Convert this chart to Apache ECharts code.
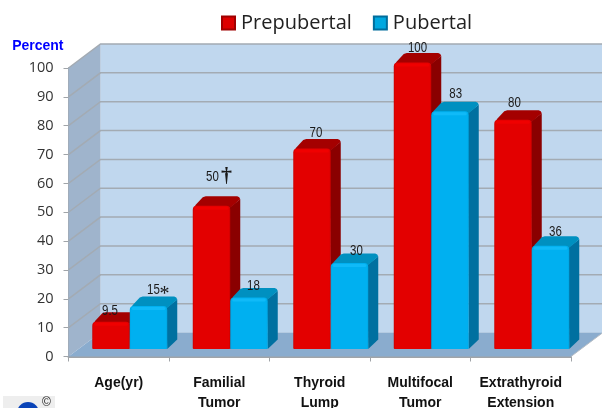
<!DOCTYPE html>
<html>
<head>
<meta charset="utf-8">
<style>html,body{margin:0;padding:0;background:#fff}#c{width:602px;height:408px}</style>
<script src="https://cdn.jsdelivr.net/npm/echarts@6/dist/echarts.min.js"></script>
</head>
<body>
<div id="c"></div>
<script>
const categories = ['Age(yr)', 'Familial\nTumor', 'Thyroid\nLump', 'Multifocal\nTumor', 'Extrathyroid\nExtension'];
const prepubertal = [9.5, 50, 70, 100, 80];
const pubertal = [15, 18, 30, 83, 36];
const prepubertalMarks = ['', '†', '', '', ''];
const pubertalMarks = ['*', '', '', '', ''];
const yTicks = [0, 10, 20, 30, 40, 50, 60, 70, 80, 90, 100];

const WALL_DX = 32, WALL_DY = 24;    // depth of the room
const FLOOR_DX = 11, FLOOR_DY = 7.5; // where bars stand on the floor
const BAR_DX = 10, BAR_DY = 9.5;     // depth of a bar
const BAR_SCALE = 0.993;             // bars stand further back than the axis plane
const SANS = '"Liberation Sans",Arial,sans-serif';
// hand placement of the value labels, in pixels relative to the bar's top
const labelPlacement = {
  Prepubertal: {lift: [11, 29, 15.5, 14.5, 17], shift: [-1, 1, 4, 5, 1.5]},
  Pubertal: {lift: [15.5, 11.5, 12, 17.5, 13.5], shift: [5, 4.5, 7, 5.7, 5]}
};

function backdrop(params, api) {
  const w = api.size([1, 0])[0];
  const x0 = api.coord([0, 0])[0] - w / 2;
  const x1 = x0 + w * categories.length;
  const y0 = api.coord([0, 0])[1];
  const y1 = api.coord([0, 100])[1];
  const line = '#a3abb3';
  const poly = (points, fill) => ({type: 'polygon', shape: {points}, style: {fill}, silent: true});
  const children = [
    poly([[x0 + WALL_DX, y1 - WALL_DY], [x1 + WALL_DX, y1 - WALL_DY], [x1 + WALL_DX, y0 - WALL_DY], [x0 + WALL_DX, y0 - WALL_DY]], '#c0d7ee'),
    poly([[x0, y1], [x0 + WALL_DX, y1 - WALL_DY], [x0 + WALL_DX, y0 - WALL_DY], [x0, y0]], '#9fb4cc'),
    poly([[x0, y0], [x1, y0], [x1 + WALL_DX, y0 - WALL_DY], [x0 + WALL_DX, y0 - WALL_DY]], '#8aacce')
  ];
  yTicks.forEach(t => {
    const y = api.coord([0, t])[1];
    if (t > 0) {
      children.push({type: 'polyline', shape: {points: [[x0, y], [x0 + WALL_DX, y - WALL_DY], [x1 + WALL_DX, y - WALL_DY]]},
        style: {fill: null, stroke: line, lineWidth: 1.5}, silent: true});
    }
  });
  children.push({type: 'line', shape: {x1: x1, y1: y0, x2: x1 + WALL_DX, y2: y0 - WALL_DY}, style: {stroke: '#b5bcc4', lineWidth: 1}, silent: true});
  return {type: 'group', children};
}

function barRenderer(side, colors, marks, placement) {
  return function (params, api) {
    const i = api.value(0), v = api.value(1);
    const band = api.size([1, 0])[0];
    const w = band * 0.373;
    const c = api.coord([i, v]);
    const zero = api.coord([i, 0])[1];
    const base = zero - FLOOR_DY;
    const xl = c[0] + FLOOR_DX + (side === 0 ? -w : 0);
    const xr = xl + w;
    const yt = base - (zero - c[1]) * BAR_SCALE;
    const r = 4;
    const topY = yt - BAR_DY;
    const top = [[xl + 1, yt + 2], [xl + 3, yt - 1], [xl + BAR_DX, topY + 1], [xl + BAR_DX + 3, topY],
      [xr + BAR_DX - 3, topY], [xr + BAR_DX - 1, topY + 1], [xr + BAR_DX, topY + 3], [xr, yt + 2]];
    const sideFace = [[xr - 1, yt + 2], [xr + BAR_DX, topY + 3], [xr + BAR_DX, base - BAR_DY], [xr, base]];
    const lx = (xl + xr) / 2 + placement.shift[i];
    const ly = yt - placement.lift[i];
    const mark = marks[i];
    const children = [
      {type: 'polygon', shape: {points: sideFace}, style: {fill: colors.side}},
      {type: 'polygon', shape: {points: top}, style: {fill: colors.top}},
      {type: 'rect', shape: {x: xl, y: yt, width: w, height: base - yt, r: [r, r, 1, 1]}, style: {
        fill: {type: 'linear', x: 0, y: 0, x2: 1, y2: 0, colorStops: [
          {offset: 0, color: colors.edge}, {offset: 0.04, color: colors.front}, {offset: 0.96, color: colors.front}, {offset: 1, color: colors.edge}]}
      }},
      {type: 'rect', shape: {x: xl + 2, y: yt + 1, width: w - 4, height: 3, r: 1.5}, style: {fill: colors.glow}},
      {type: 'text', z2: 10, x: lx, y: ly, scaleX: 0.82, style: {
        text: String(v), x: 0, y: 0, align: 'center', verticalAlign: 'middle',
        font: '14px ' + SANS, fill: '#1a1a1a'
      }}
    ];
    if (mark) {
      const dagger = mark === '†';
      children.push({type: 'text', z2: 10, x: lx + (dagger ? 14 : 11), y: ly + (dagger ? -0.5 : 4), style: {
        text: mark, x: 0, y: 0, align: 'center', verticalAlign: 'middle',
        font: (dagger ? 'bold 22px ' : '20px ') + '"Liberation Serif",serif', fill: '#1a1a1a'
      }});
    }
    return {type: 'group', children};
  };
}

const red = {front: '#e30000', edge: '#c80000', top: '#a40000', side: '#8a0000', glow: '#f00000'};
const blue = {front: '#00b0f0', edge: '#00a4e0', top: '#0090c0', side: '#0070a0', glow: '#10baf8'};

const chart = echarts.init(document.getElementById('c'), null, {renderer: 'canvas'});
chart.setOption({
  animation: false,
  backgroundColor: '#fff',
  textStyle: {fontFamily: '"Open Sans",sans-serif'},
  legend: {
    data: ['Prepubertal', 'Pubertal'],
    top: 8, left: 216, icon: 'rect', itemWidth: 13, itemHeight: 13, itemGap: 21,
    textStyle: {fontSize: 20, color: '#222', fontFamily: '"Open Sans",sans-serif', padding: [0, 0, 0, 1]},
    selectedMode: false
  },
  grid: {left: 68.5, right: 31, top: 68, bottom: 51.5, outerBoundsMode: 'none'},
  xAxis: {
    type: 'category', data: categories,
    axisLine: {lineStyle: {color: '#a0a4a8', width: 2}},
    axisTick: {show: true, length: 5, lineStyle: {color: '#a0a4a8'}, alignWithLabel: false},
    axisLabel: {interval: 0, margin: 17, lineHeight: 20, color: '#111', fontSize: 14, fontWeight: 'bold', fontFamily: SANS},
    splitLine: {show: false}
  },
  yAxis: {
    type: 'value', min: 0, max: 100, interval: 10,
    name: 'Percent', nameLocation: 'end', nameGap: 15,
    nameTextStyle: {color: '#0000ff', fontWeight: 'bold', fontSize: 14, fontFamily: SANS, align: 'right', padding: [0, 5, 0, 0]},
    axisLine: {show: true, lineStyle: {color: '#a0a4a8', width: 2}},
    axisTick: {show: true, length: 5, lineStyle: {color: '#a0a4a8'}},
    axisLabel: {margin: 15, fontSize: 14.5, color: '#333', padding: [4, 0, 0, 0]},
    splitLine: {show: false}
  },
  series: [
    {type: 'custom', name: 'backdrop', silent: true, z: 1, data: [[0, 0]], encode: {x: 0, y: 1}, renderItem: backdrop},
    {type: 'custom', name: 'Prepubertal', z: 3, itemStyle: {color: '#dd0000', borderColor: '#a00000', borderWidth: 1},
      data: prepubertal.map((v, i) => [i, v]), encode: {x: 0, y: 1},
      renderItem: barRenderer(0, red, prepubertalMarks, labelPlacement.Prepubertal)},
    {type: 'custom', name: 'Pubertal', z: 4, itemStyle: {color: '#00a8e0', borderColor: '#006d9c', borderWidth: 1},
      data: pubertal.map((v, i) => [i, v]), encode: {x: 0, y: 1},
      renderItem: barRenderer(1, blue, pubertalMarks, labelPlacement.Pubertal)}
  ],
  graphic: [
    {type: 'rect', left: 3, top: 396, shape: {width: 52, height: 12}, style: {fill: '#eeeeee'}, silent: true},
    {type: 'circle', left: 17, top: 402, shape: {r: 11}, style: {fill: '#0a44b8'}, silent: true},
    {type: 'text', left: 42, top: 397, style: {text: '©', font: '12px "Liberation Sans"', fill: '#222'}, silent: true}
  ]
});
</script>
</body>
</html>
